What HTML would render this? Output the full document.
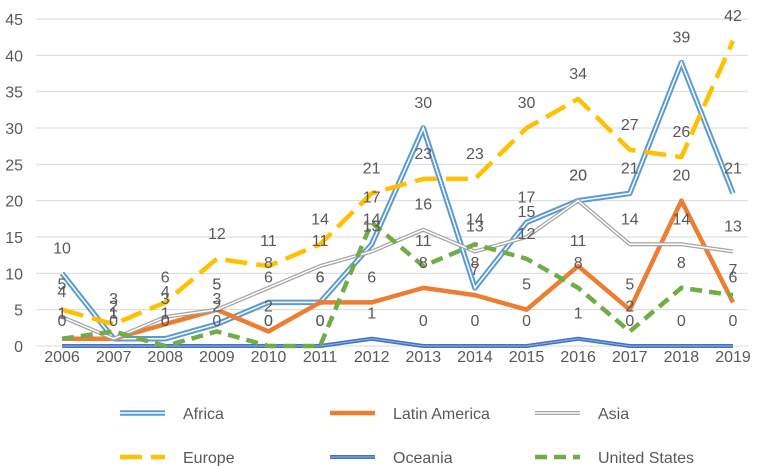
<!DOCTYPE html>
<html><head><meta charset="utf-8"><style>
body{margin:0;background:#fff;}
svg{display:block;font-family:"Liberation Sans",sans-serif;}
</style></head><body>
<svg id="chart" width="760" height="466"></svg>
<script>
const years=[2006,2007,2008,2009,2010,2011,2012,2013,2014,2015,2016,2017,2018,2019];
const africa=[10,1,1,3,6,6,14,30,8,17,20,21,39,21];
const latam=[1,1,3,5,2,6,6,8,7,5,11,5,20,6];
const asia=[4,1,4,5,8,11,13,16,13,15,20,14,14,13];
const europe=[5,3,6,12,11,14,21,23,23,30,34,27,26,42];
const oceania=[0,0,0,0,0,0,1,0,0,0,1,0,0,0];
const us=[1,2,0,2,0,0,17,11,14,12,8,2,8,7];
const yTicks=[0,5,10,15,20,25,30,35,40,45];
const NS="http://www.w3.org/2000/svg";
const svg=document.getElementById('chart');
const x0=62,x1=733,y0=346,y1=19;
const X=i=>x0+i*(x1-x0)/(years.length-1);
const Y=v=>y0-v*(y0-y1)/45;
function mk(t,a,p){const e=document.createElementNS(NS,t);for(const k in a)e.setAttribute(k,a[k]);(p||svg).appendChild(e);return e;}
yTicks.forEach(t=>{
 const g=mk('line',{x1:36,x2:x1+15,y1:Y(t),y2:Y(t),stroke:'#d9d9d9','stroke-width':1});
 
 
 const l=mk('text',{x:23,y:Y(t)+6,'text-anchor':'end','font-size':16,fill:'#595959'});l.textContent=t;
 
 
});
years.forEach((yr,i)=>{
 const l=mk('text',{x:X(i),y:362,'text-anchor':'middle','font-size':16,fill:'#595959'});l.textContent=yr;
 
 
});
const series=[
 {n:'africa',d:africa,c:'#5b9bd5',w:5.5,inner:'#fff',iw:1.5},
 {n:'latin-america',d:latam,c:'#ed7d31',w:4.5},
 {n:'asia',d:asia,c:'#a5a5a5',w:4,inner:'#fff',iw:1.5},
 {n:'europe',d:europe,c:'#ffc000',w:4.5,dash:'22 9'},
 {n:'oceania',d:oceania,c:'#4472c4',w:4,inner:'#8fb0e4',iw:1},
 {n:'united-states',d:us,c:'#70ad47',w:4.5,dash:'12 7'}
];
series.forEach(s=>{
 const pts=s.d.map((v,i)=>X(i)+','+Y(v)).join(' ');
 const p=mk('polyline',{points:pts,fill:'none',stroke:s.c,'stroke-width':s.w,'stroke-dasharray':s.dash||'none','stroke-linejoin':'round'});
 
 
 if(s.inner){const q=mk('polyline',{points:pts,fill:'none',stroke:s.inner,'stroke-width':s.iw});
  
  }
});
series.forEach(s=>{
 s.d.forEach((v,i)=>{
  const t=mk('text',{x:X(i),y:Y(v)-20,'text-anchor':'middle','font-size':16,fill:'#595959'});t.textContent=v;
  
  
 });
});
const legend=[['Africa',120,413],['Latin America',330,413],['Asia',535,413],['Europe',120,457],['Oceania',330,457],['United States',535,457]];
legend.forEach((l,i)=>{
 const s=series[i];
 const g=mk('g',{});
 
 
 mk('line',{x1:l[1],x2:l[1]+45,y1:l[2],y2:l[2],stroke:s.c,'stroke-width':s.w,'stroke-dasharray':s.dash||'none'},g);
 if(s.inner)mk('line',{x1:l[1],x2:l[1]+45,y1:l[2],y2:l[2],stroke:s.inner,'stroke-width':s.iw},g);
 const t=mk('text',{x:l[1]+63,y:l[2]+6,'font-size':16,fill:'#595959'},g);t.textContent=l[0];
});
</script>
</body></html>
